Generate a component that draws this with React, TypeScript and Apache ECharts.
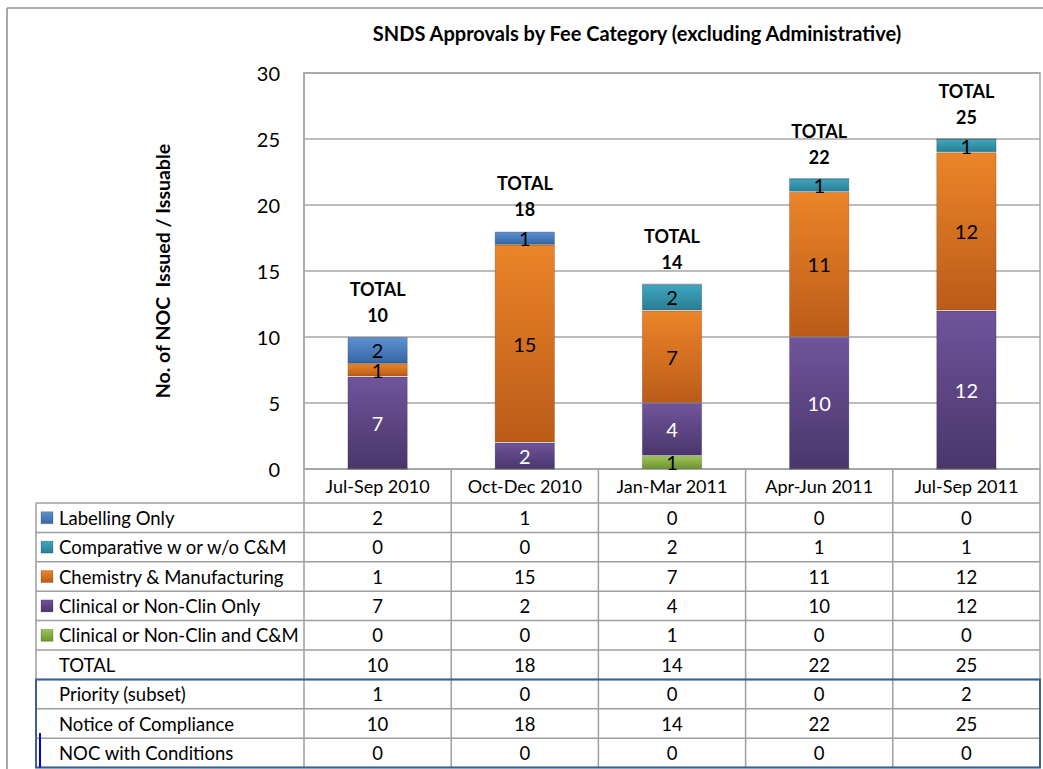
import React, { useEffect, useRef } from "react";
import * as echarts from "echarts";

const categories = ["Jul-Sep 2010", "Oct-Dec 2010", "Jan-Mar 2011", "Apr-Jun 2011", "Jul-Sep 2011"];
const labellingOnly = [2, 1, 0, 0, 0];
const comparative = [0, 0, 2, 1, 1];
const chemistry = [1, 15, 7, 11, 12];
const clinicalOnly = [7, 2, 4, 10, 12];
const clinicalAndCM = [0, 0, 1, 0, 0];
const priority = [1, 0, 0, 0, 2];
const noticeOfCompliance = [10, 18, 14, 22, 25];
const nocWithConditions = [0, 0, 0, 0, 0];

const yMin = 0;
const yMax = 30;
const yInterval = 5;

const FONT = "Lato, 'Open Sans', sans-serif";

const W = 1043;
const H = 769;
const gridLeft = 304;
const gridRight = 1040;
const gridTop = 73;
const gridBottomY = 469;

const palette = {
  labelling: ["#5D91D2", "#3866A4"],
  comparative: ["#3EA7C0", "#2A7D92"],
  chemistry: ["#EB8529", "#BB5B19"],
  clinicalOnly: ["#6F549B", "#4A366B"],
  clinicalAndCM: ["#9CC456", "#6E9530"],
};

function grad(c: string[]) {
  return new echarts.graphic.LinearGradient(0, 0, 0, 1, [
    { offset: 0, color: c[0] },
    { offset: 1, color: c[1] },
  ]);
}

export default function App() {
  const ref = useRef<HTMLDivElement>(null);

  useEffect(() => {
    if (!ref.current) return;
    const chart = echarts.init(ref.current, undefined, { renderer: "svg" });

    const totals = categories.map(
      (_, i) => labellingOnly[i] + comparative[i] + chemistry[i] + clinicalOnly[i] + clinicalAndCM[i]
    );

    const stackSeries = [
      { name: "Clinical or Non-Clin and C&M", data: clinicalAndCM, c: palette.clinicalAndCM, lc: "#000" },
      { name: "Clinical or Non-Clin Only", data: clinicalOnly, c: palette.clinicalOnly, lc: "#fff" },
      { name: "Chemistry & Manufacturing", data: chemistry, c: palette.chemistry, lc: "#000" },
      { name: "Comparative w or w/o C&M", data: comparative, c: palette.comparative, lc: "#000" },
      { name: "Labelling Only", data: labellingOnly, c: palette.labelling, lc: "#000" },
    ];

    const series: any[] = stackSeries.map((s) => ({
      type: "bar",
      name: s.name,
      stack: "total",
      barWidth: "41%",
      data: s.data,
      itemStyle: { color: grad(s.c), borderColor: "rgba(0,0,0,0.18)", borderWidth: 1 },
      label: {
        show: true,
        position: "inside",
        color: s.lc,
        fontSize: 20,
        fontFamily: FONT,
        formatter: (p: any) => (p.value ? String(p.value) : ""),
      },
    }));

    series.push({
      type: "scatter",
      name: "TOTAL",
      data: totals,
      symbolSize: 0.1,
      itemStyle: { color: "transparent", opacity: 1 },
      label: {
        show: true,
        position: "top",
        distance: 9,
        color: "#000",
        opacity: 1,
        fontSize: 18,
        fontWeight: "bold",
        fontFamily: FONT,
        lineHeight: 26,
        formatter: (p: any) => "TOTAL\n" + p.value,
      },
    });

    // Table geometry
    const colW = (gridRight - gridLeft) / categories.length;
    const tableLeft = 36;
    const headerBottom = 503;
    const rowH = 29.4;
    const lineColor = "#9E9E9E";
    const rows = [
      { name: "Labelling Only", values: labellingOnly, c: palette.labelling },
      { name: "Comparative w or w/o C&M", values: comparative, c: palette.comparative },
      { name: "Chemistry & Manufacturing", values: chemistry, c: palette.chemistry },
      { name: "Clinical or Non-Clin Only", values: clinicalOnly, c: palette.clinicalOnly },
      { name: "Clinical or Non-Clin and C&M", values: clinicalAndCM, c: palette.clinicalAndCM },
      { name: "TOTAL", values: totals, c: null },
      { name: "Priority (subset)", values: priority, c: null },
      { name: "Notice of Compliance", values: noticeOfCompliance, c: null },
      { name: "NOC with Conditions", values: nocWithConditions, c: null },
    ];
    const tableBottom = headerBottom + rows.length * rowH;
    const tableFont = 18.5;

    const graphics: any[] = [];
    // outer chart border
    graphics.push({ type: "line", silent: true, shape: { x1: 7, y1: 8, x2: W, y2: 8 }, style: { stroke: "#8C8C8C", lineWidth: 1.5 } });
    graphics.push({ type: "line", silent: true, shape: { x1: 7, y1: 8, x2: 7, y2: H }, style: { stroke: "#8C8C8C", lineWidth: 1.5 } });

    // title
    graphics.push({
      type: "text",
      silent: true,
      x: 637,
      y: 33,
      style: {
        text: "SNDS Approvals by Fee Category (excluding Administrative)",
        fontSize: 20,
        fontWeight: "bold",
        fontFamily: FONT,
        fill: "#000",
        align: "center",
        verticalAlign: "middle",
      },
    });

    // header row vertical lines
    for (let i = 0; i <= categories.length; i++) {
      const x = gridLeft + i * colW;
      graphics.push({ type: "line", silent: true, shape: { x1: x, y1: gridBottomY, x2: x, y2: tableBottom }, style: { stroke: lineColor, lineWidth: 1.5 } });
    }
    graphics.push({ type: "line", silent: true, shape: { x1: tableLeft, y1: headerBottom, x2: tableLeft, y2: tableBottom }, style: { stroke: lineColor, lineWidth: 1.5 } });
    for (let r = 0; r <= rows.length; r++) {
      const y = headerBottom + r * rowH;
      graphics.push({ type: "line", silent: true, shape: { x1: tableLeft, y1: y, x2: gridRight, y2: y }, style: { stroke: lineColor, lineWidth: 1.5 } });
    }
    rows.forEach((row, r) => {
      const cy = headerBottom + r * rowH + rowH / 2;
      if (row.c) {
        graphics.push({
          type: "rect",
          silent: true,
          shape: { x: 41, y: cy - 6, width: 12, height: 12 },
          style: { fill: grad(row.c), stroke: "rgba(0,0,0,0.18)", lineWidth: 1 },
        });
      }
      graphics.push({
        type: "text",
        silent: true,
        x: 59,
        y: cy,
        style: { text: row.name, fontSize: tableFont, fontFamily: FONT, fill: "#000", align: "left", verticalAlign: "middle" },
      });
      row.values.forEach((v, i) => {
        graphics.push({
          type: "text",
          silent: true,
          x: gridLeft + i * colW + colW / 2,
          y: cy,
          style: { text: String(v), fontSize: tableFont, fontFamily: FONT, fill: "#000", align: "center", verticalAlign: "middle" },
        });
      });
    });
    // blue box around the last three rows
    const boxTop = headerBottom + 6 * rowH;
    graphics.push({
      type: "rect",
      silent: true,
      shape: { x: tableLeft, y: boxTop, width: gridRight - tableLeft, height: tableBottom - boxTop },
      style: { fill: "none", stroke: "#3B6194", lineWidth: 2 },
    });
    graphics.push({ type: "line", silent: true, shape: { x1: 40, y1: 733, x2: 40, y2: tableBottom }, style: { stroke: "#0000EE", lineWidth: 2 } });

    chart.setOption({
      animation: false,
      backgroundColor: "#fff",
      grid: {
        left: gridLeft,
        right: W - gridRight,
        top: gridTop,
        bottom: H - gridBottomY,
        show: true,
        borderColor: "#A6A6A6",
        borderWidth: 1.5,
      },
      xAxis: {
        type: "category",
        data: categories,
        axisLine: { show: true, lineStyle: { color: "#A6A6A6", width: 1.5 } },
        axisTick: { show: false },
        axisLabel: { color: "#000", fontSize: 18, fontFamily: FONT, margin: 8, interval: 0, hideOverlap: false },
      },
      yAxis: {
        type: "value",
        min: yMin,
        max: yMax,
        interval: yInterval,
        name: "No. of NOC  Issued / Issuable",
        nameLocation: "middle",
        nameGap: 132,
        nameTextStyle: { color: "#000", fontSize: 19.5, fontWeight: "bold", fontFamily: FONT },
        axisLine: { show: true, lineStyle: { color: "#A6A6A6", width: 1.5 } },
        axisTick: { show: false },
        axisLabel: { color: "#000", fontSize: 20, fontFamily: FONT, margin: 24 },
        splitLine: { show: true, lineStyle: { color: "#A6A6A6", width: 1.5 } },
      },
      series,
      graphic: graphics,
    });

    return () => chart.dispose();
  }, []);

  return (
    <div
      ref={ref}
      style={{ position: "absolute", left: 0, top: 0, width: W, height: H, background: "#fff" }}
    />
  );
}
